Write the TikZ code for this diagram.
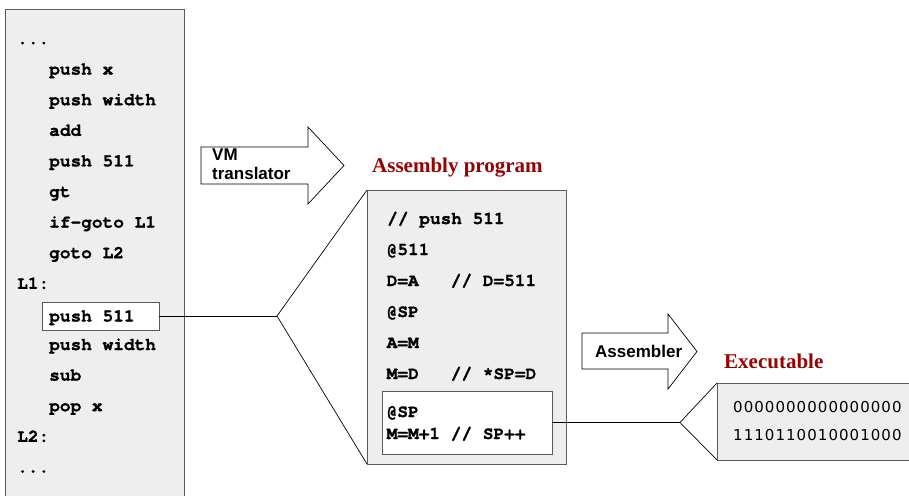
\documentclass[tikz,border=0pt]{standalone}
\usepackage{fontspec}
\setmainfont{Liberation Sans}
\newfontfamily\codefont{texgyrecursor}[Extension=.otf, UprightFont=*-regular, BoldFont=*-bold, BoldFeatures={FakeBold=1.2}]
\newfontfamily\binfont[LetterSpace=7]{DejaVu Sans}
\newfontfamily\titlefont{Liberation Serif}
\definecolor{panelgray}{HTML}{EEEEEE}
\definecolor{edgegray}{HTML}{5A5A5A}
\definecolor{titlered}{HTML}{990000}
\tikzset{
  panel/.style={draw=edgegray, fill=panelgray, line width=0.8pt, inner sep=0pt, outer sep=0pt, anchor=north west},
  subbox/.style={draw=edgegray, fill=white, line width=0.8pt, inner sep=0pt, outer sep=0pt},
  code/.style={font=\codefont\bfseries\fontsize{17.8}{20}\selectfont, anchor=base west, inner sep=0pt},
  bincode/.style={font=\binfont\fontsize{15}{17}\selectfont, anchor=base west, inner sep=0pt},
  title/.style={font=\titlefont\bfseries\fontsize{21}{25}\selectfont, text=titlered, anchor=base west, inner sep=0pt},
  arrowlabel/.style={font=\bfseries\fontsize{17}{19}\selectfont, anchor=base west, inner sep=0pt},
  link/.style={draw=black, line width=0.7pt},
  blockarrow/.style={draw=black, fill=white, line width=0.7pt, line join=miter}
}
\begin{document}
\begin{tikzpicture}[x=1pt,y=-1pt]
\useasboundingbox (0,0) rectangle (909,495);
\clip (0,0) rectangle (909,495);

% VM code panel
\node[panel, minimum width=179pt, minimum height=500pt] (vmcode) at (5,9) {};
\node[subbox, minimum width=117pt, minimum height=28pt] (pushbox) at (100.5,316) {};
\node[code] (v0)  at (17,44)    {...};
\node[code] (v1)  at (49,74.6)  {push x};
\node[code] (v2)  at (49,105.2) {push width};
\node[code] (v3)  at (49,135.8) {add};
\node[code] (v4)  at (49,166.4) {push 511};
\node[code] (v5)  at (49,197)   {gt};
\node[code] (v6)  at (49,227.6) {if-goto L1};
\node[code] (v7)  at (49,258.2) {goto L2};
\node[code] (v8)  at (17,288.8) {L1:};
\node[code] (v9)  at (49,321.5) {push 511};
\node[code] (v10) at (49,350)   {push width};
\node[code] (v11) at (49,380.6) {sub};
\node[code] (v12) at (49,411.2) {pop x};
\node[code] (v13) at (17,441.8) {L2:};
\node[code] (v14) at (17,472.4) {...};

% VM translator arrow
\draw[blockarrow] (201,147) -- (308,147) -- (308,127) -- (344,165.5) -- (308,204) -- (308,184) -- (201,184) -- cycle;
\node[arrowlabel] (vmlab1) at (212,160) {VM};
\node[arrowlabel] (vmlab2) at (212,179) {translator};

% Assembly program panel
\node[title] (asmtitle) at (372,172) {Assembly program};
\node[panel, minimum width=199pt, minimum height=274pt] (asm) at (367,190) {};
\node[subbox, minimum width=170pt, minimum height=63pt] (incbox) at (467,422.5) {};
\node[code] (a0) at (387,224) {// push 511};
\node[code] (a1) at (386.5,255) {@511};
\node[code] (a2) at (386.5,286) {D=A~~~// D=511};
\node[code] (a3) at (386.5,317) {@SP};
\node[code] (a4) at (386.5,348) {A=M};
\node[code] (a5) at (386.5,379) {M=D~~~// *SP=D};
\node[code] (a6) at (386.5,417) {@SP};
\node[code] (a7) at (386.5,439) {M=M+1 // SP++};

% Assembler arrow
\draw[blockarrow] (582,333) -- (668,333) -- (668,314) -- (697,351.5) -- (668,389) -- (668,369) -- (582,369) -- cycle;
\node[arrowlabel] (asmlab) at (595,357) {Assembler};

% Executable panel
\node[title] (exetitle) at (724,368) {Executable};
\node[panel, minimum width=210pt, minimum height=77pt] (bin) at (717,383) {};
\node[bincode] (b0) at (733,412) {0000000000000000};
\node[bincode] (b1) at (733,440) {1110110010001000};

% zoom-in connectors
\coordinate (fork1) at (277,316);
\coordinate (fork2) at (680,422.5);
\draw[link] (pushbox.east) -- (fork1);
\draw[link] (fork1) -- (asm.north west);
\draw[link] (fork1) -- (asm.south west);
\draw[link] (incbox.east) -- (fork2);
\draw[link] (fork2) -- (bin.north west);
\draw[link] (fork2) -- (bin.south west);
\end{tikzpicture}
\end{document}
